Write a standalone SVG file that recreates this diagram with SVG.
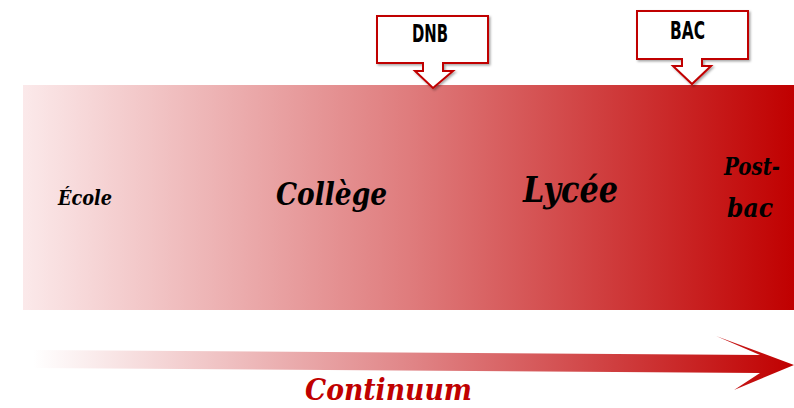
<svg xmlns="http://www.w3.org/2000/svg" width="794" height="408" viewBox="0 0 794 408">
<defs>
<linearGradient id="band" x1="23" y1="0" x2="794" y2="0" gradientUnits="userSpaceOnUse">
<stop offset="0" stop-color="#fbe9ea"/>
<stop offset="0.5" stop-color="#df7c7d"/>
<stop offset="1" stop-color="#c00000"/>
</linearGradient>
<linearGradient id="arrowGrad" x1="33" y1="0" x2="794" y2="0" gradientUnits="userSpaceOnUse">
<stop offset="0" stop-color="#ffffff"/>
<stop offset="0.5" stop-color="#e08486"/>
<stop offset="1" stop-color="#c00000"/>
</linearGradient>
<filter id="shadow" x="-10%" y="-10%" width="130%" height="130%">
<feDropShadow dx="1.5" dy="1.5" stdDeviation="1" flood-color="#000" flood-opacity="0.35"/>
</filter>
</defs>
<style>
.callout{fill:#ffffff;stroke:#c00000;stroke-width:2;stroke-linejoin:miter;filter:url(#shadow)}
.exam{font-family:"Liberation Sans Narrow","DejaVu Sans Condensed","Liberation Sans",sans-serif;font-weight:bold;font-size:24px;fill:#000;text-anchor:start}
.stage{font-family:"DejaVu Serif","Liberation Serif",serif;font-weight:bold;font-style:italic;fill:#000}
.cont{font-family:"DejaVu Serif","Liberation Serif",serif;font-weight:bold;font-style:italic;fill:#c00000}
</style>
<rect id="band-bg" x="23" y="85" width="771" height="225" fill="url(#band)"/>
<g id="connectors">
<polygon points="33,350 760,355 716,336 794,365 734,390 760,373 33,368" fill="url(#arrowGrad)"/>
</g>
<g id="ecole"><text class="stage" x="58" y="205" font-size="21" textLength="54" lengthAdjust="spacingAndGlyphs">École</text></g>
<g id="college"><text class="stage" x="276" y="205" font-size="32" textLength="111" lengthAdjust="spacingAndGlyphs">Collège</text></g>
<g id="lycee"><text class="stage" x="523" y="202" font-size="35" textLength="95" lengthAdjust="spacingAndGlyphs">Lycée</text></g>
<g id="postbac"><text class="stage" x="724" y="175" font-size="24" textLength="56" lengthAdjust="spacingAndGlyphs">Post-</text><text class="stage" x="727" y="217" font-size="26" textLength="46" lengthAdjust="spacingAndGlyphs">bac</text></g>
<g id="dnb">
<path class="callout" d="M377,16 H488 V63 H443 V71 H453 L433,88 L415,71 H423 V63 H377 Z"/>
<text class="exam" x="412" y="42" textLength="36" lengthAdjust="spacingAndGlyphs">DNB</text>
</g>
<g id="bac">
<path class="callout" d="M637,11 H748 V59 H702 V66 H711 L692,84 L673,66 H682 V59 H637 Z"/>
<text class="exam" x="670" y="39" textLength="35" lengthAdjust="spacingAndGlyphs">BAC</text>
</g>
<g id="continuum"><text class="cont" x="305" y="400" font-size="29" textLength="167" lengthAdjust="spacingAndGlyphs">Continuum</text></g>
</svg>
